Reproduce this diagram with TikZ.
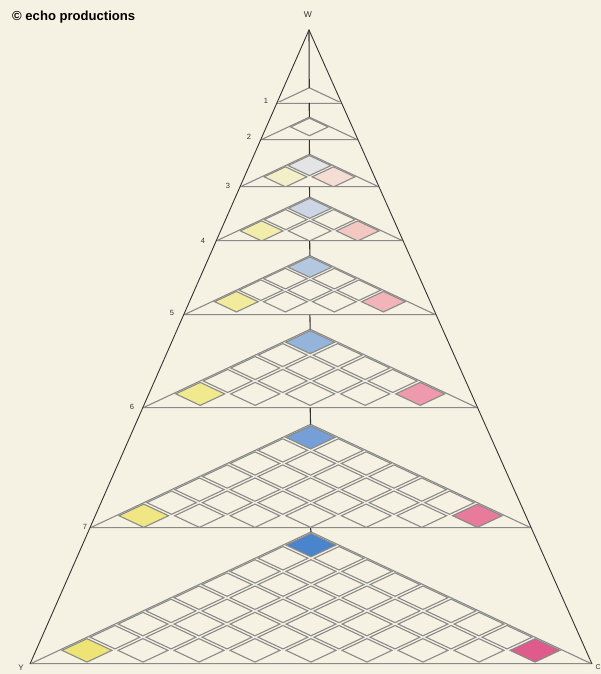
\documentclass[tikz,border=0pt]{standalone}
\usepackage{fontspec}
\usepackage{graphicx}
\setmainfont{Liberation Sans}
\usetikzlibrary{calc}
\definecolor{paper}{HTML}{F6F2E3}
\definecolor{ink}{HTML}{333333}
\definecolor{grid}{HTML}{8A8A88}
\definecolor{blue3}{HTML}{E4E3E6}\definecolor{yel3}{HTML}{F3EFC8}\definecolor{pink3}{HTML}{F4DDD3}
\definecolor{blue4}{HTML}{CDD6E4}\definecolor{yel4}{HTML}{F2EDAA}\definecolor{pink4}{HTML}{F4C8C2}
\definecolor{blue5}{HTML}{B4C7E0}\definecolor{yel5}{HTML}{F2EB9C}\definecolor{pink5}{HTML}{F2B4B8}
\definecolor{blue6}{HTML}{95B4DC}\definecolor{yel6}{HTML}{F1E98E}\definecolor{pink6}{HTML}{EE9AAC}
\definecolor{blue7}{HTML}{759FD6}\definecolor{yel7}{HTML}{F0E684}\definecolor{pink7}{HTML}{E87A9C}
\definecolor{blue8}{HTML}{4A84CC}\definecolor{yel8}{HTML}{EEE476}\definecolor{pink8}{HTML}{E05A8C}
\definecolor{blue2}{HTML}{F6F2E3}\definecolor{yel2}{HTML}{F6F2E3}\definecolor{pink2}{HTML}{F6F2E3}
\tikzset{
  bigedge/.style={draw=ink, line width=0.9pt},
  levelline/.style={draw=grid, line width=0.75pt, double=paper!85!grid, double distance=1.0pt},
  subedge/.style={draw=grid, line width=1.1pt},
  stub/.style={draw=ink, line width=1.1pt},
  cellbox/.style={draw=grid, line width=1.1pt},
  lab/.style={font=\fontsize{7.5}{8}\selectfont, text=ink, inner sep=0pt},
}
\begin{document}
\begin{tikzpicture}[x=1pt,y=-1pt]
\fill[paper] (0,0) rectangle (601,674);
\useasboundingbox (0,0) rectangle (601,674);
\node[anchor=west, inner sep=0pt] (credit) at (12,17) {\resizebox{123pt}{!}{\bfseries © echo productions}};
\coordinate (W) at (309,30);
\coordinate (Yc) at (30,664);
\coordinate (Mc) at (592,664);
\foreach \lev/\yb/\rows/\ca in {1/103/0/20,2/140/1/21,3/187/2/24,4/241/3/24,5/315/4/24.5,6/408/5/27.5,7/528/7/27.8,8/664/9/28}{
  \pgfmathsetmacro\xl{309-(\yb-30)*0.44006}
  \pgfmathsetmacro\xr{309+(\yb-30)*0.44637}
  \pgfmathsetmacro\cx{(\xl+\xr)/2}
  \pgfmathsetmacro\hw{(\xr-\xl)/2}
  \pgfmathsetmacro\ya{\yb-0.47*\hw}
  \coordinate (L\lev) at (\xl,\yb);
  \coordinate (R\lev) at (\xr,\yb);
  \coordinate (M\lev) at (\cx,\yb);
  \coordinate (A\lev) at (\cx,\ya);
  \ifnum\rows>0
    \pgfmathsetmacro\cb{0.47*\ca}
    \foreach \k in {1,...,\rows}{
      \foreach \j in {1,...,\k}{
        \pgfmathsetmacro\px{\cx+(2*\j-\k-1)*\ca}
        \pgfmathsetmacro\py{\ya+\k*\cb}
        \def\cf{paper}
        \ifnum\rows>1
          \ifnum\k=1 \def\cf{blue\lev}\fi
          \ifnum\k=\rows
            \ifnum\j=1 \def\cf{yel\lev}\fi
            \ifnum\j=\k \def\cf{pink\lev}\fi
          \fi
        \fi
        \draw[cellbox, fill=\cf] (\px-0.89*\ca,\py) -- (\px,\py-0.89*\cb) -- (\px+0.89*\ca,\py) -- (\px,\py+0.89*\cb) -- cycle;
      }
    }
  \fi
  \draw[subedge] (L\lev) -- (A\lev) -- (R\lev);
  \draw[levelline] (L\lev) -- (R\lev);
}
\draw[stub] (W) -- (A1);
\foreach \p/\n in {1/2,2/3,3/4,4/5,5/6,6/7,7/8}{\draw[stub] (M\p) -- (A\n);}
\draw[bigedge] (Yc) -- (W) -- (Mc);
\node[lab, font=\fontsize{8.5}{9}\selectfont] (lw) at (308,15) {W};
\node[lab] (l1) at (266,101) {1};
\node[lab] (l2) at (249,137) {2};
\node[lab] (l3) at (228,186) {3};
\node[lab] (l4) at (203,241) {4};
\node[lab] (l5) at (172,313) {5};
\node[lab] (l6) at (132,407) {6};
\node[lab] (l7) at (85,527) {7};
\node[lab, font=\fontsize{8}{9}\selectfont] (ly) at (21,668) {Y};
\node[lab, anchor=east, font=\fontsize{7}{8}\selectfont] (lm) at (600.8,667) {C};
\end{tikzpicture}
\end{document}
